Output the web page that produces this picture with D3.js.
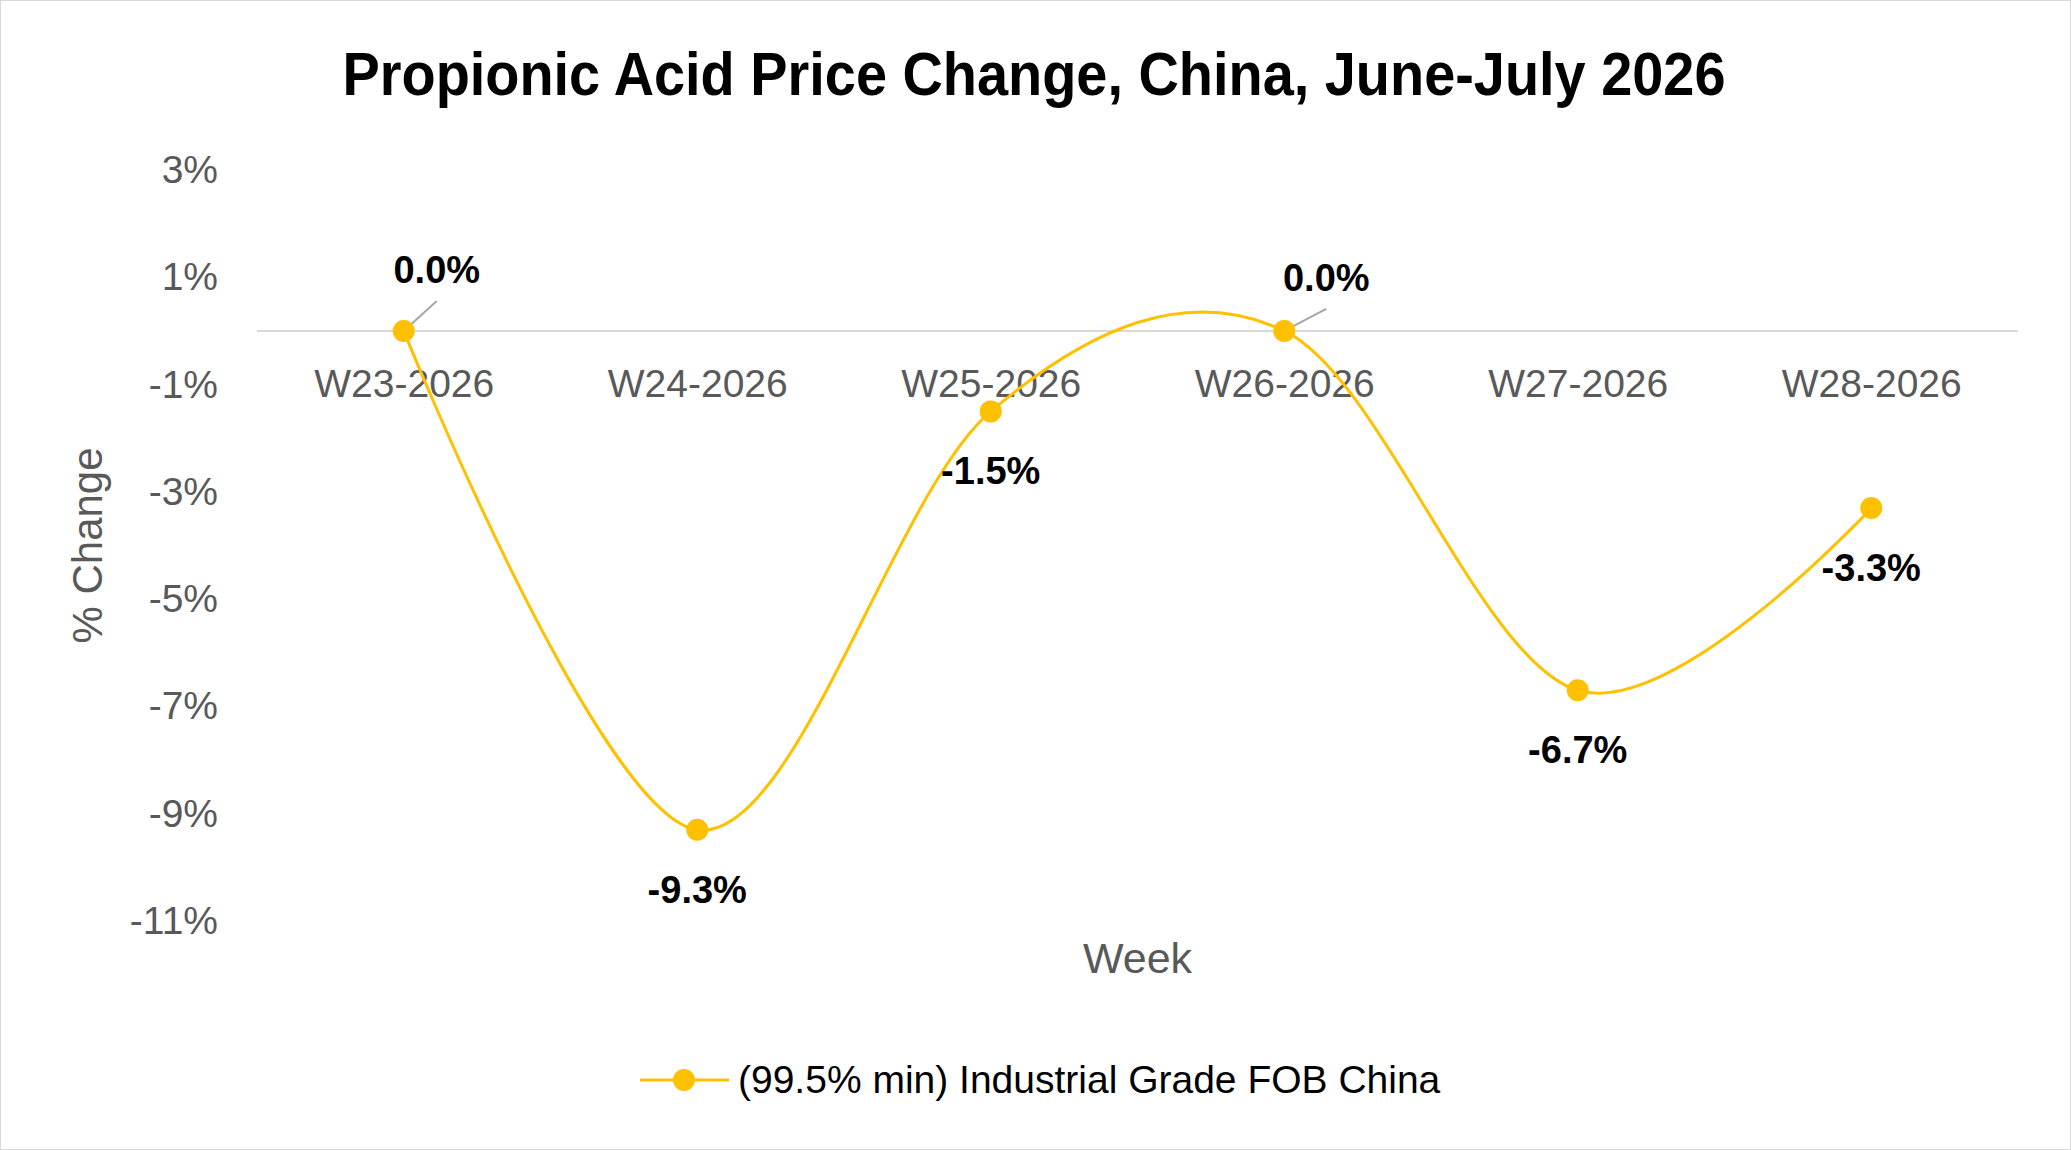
<!DOCTYPE html>
<html>
<head>
<meta charset="utf-8">
<script src="https://cdn.jsdelivr.net/npm/d3@7"></script>
<style>
  body { margin: 0; background: #fff; }
  svg { display: block; }
</style>
</head>
<body>
<div id="chart"></div>
<script>
var width = 2071;
var height = 1150;

var margin = {left:257, right:53, top:170, bottom:229};

var weeks = ["W23-2026","W24-2026","W25-2026","W26-2026","W27-2026","W28-2026"];
var pctChange = [0.0, -9.3, -1.5, 0.0, -6.7, -3.3];
var yTicks = [3, 1, -1, -3, -5, -7, -9, -11];
var seriesName = "(99.5% min) Industrial Grade FOB China";

var sans = "'Liberation Sans', Arial, sans-serif";

var plotW = width - margin.left - margin.right;
var plotH = 921 - margin.top;

var x = d3.scalePoint()
          .domain(weeks)
          .range([0, plotW])
          .padding(0.5);

var y = d3.scaleLinear()
          .domain([-11, 3])
          .range([plotH, 0]);

var svg = d3.select("#chart")
            .append("svg")
            .attr("width", width)
            .attr("height", height);

// outer border
svg.append("rect")
   .attr("x", 0.5).attr("y", 0.5)
   .attr("width", width - 1).attr("height", height - 1)
   .attr("fill", "#fff")
   .attr("stroke", "#d9d9d9");

svg.append("text")
   .attr("x", 1034)
   .attr("y", 95)
   .attr("text-anchor", "middle")
   .attr("textLength", 1383)
   .attr("lengthAdjust", "spacingAndGlyphs")
   .style("font-family", sans)
   .style("font-weight", "bold")
   .style("font-size", "61px")
   .text("Propionic Acid Price Change, China, June-July 2026");

var g = svg.append("g")
           .attr("transform", "translate(" + margin.left + "," + margin.top + ")");

// y axis labels only
var yAxis = d3.axisLeft(y)
              .tickValues(yTicks)
              .tickFormat(function(d){ return d + "%"; })
              .tickSize(0)
              .tickPadding(39);

g.append("g")
 .attr("class", "axis y")
 .call(yAxis)
 .call(function(s){ s.select(".domain").remove(); })
 .selectAll("text")
 .attr("fill", "#595959")
 .style("font-family", sans)
 .style("font-size", "39px");

// category axis sits on the zero line
var xAxis = d3.axisBottom(x)
              .tickSize(0)
              .tickPadding(38)
              .tickSizeOuter(0);

var xg = g.append("g")
          .attr("class", "axis x")
          .attr("transform", "translate(0," + y(0) + ")")
          .call(xAxis);

xg.select(".domain")
  .attr("d", "M0,0H" + plotW)
  .attr("stroke", "#d9d9d9")
  .attr("stroke-width", 2);

xg.selectAll("text")
  .attr("fill", "#595959")
  .style("font-family", sans)
  .style("font-size", "39px");

// axis titles
svg.append("text")
   .attr("transform", "translate(102," + (margin.top + y(-4)) + ") rotate(-90)")
   .attr("text-anchor", "middle")
   .attr("fill", "#595959")
   .style("font-family", sans)
   .style("font-size", "42px")
   .text("% Change");

svg.append("text")
   .attr("x", margin.left + plotW / 2)
   .attr("y", 973)
   .attr("text-anchor", "middle")
   .attr("fill", "#595959")
   .style("font-family", sans)
   .style("font-size", "43px")
   .text("Week");

var data = weeks.map(function(w, i){ return {week: w, value: pctChange[i]}; });

var line = d3.line()
             .x(function(d){ return x(d.week); })
             .y(function(d){ return y(d.value); })
             .curve(d3.curveCardinal.tension(0));

g.append("path")
 .attr("d", line(data))
 .attr("fill", "none")
 .attr("stroke", "#ffc000")
 .attr("stroke-width", 3);

// leader lines for the zero labels placed above-right
function leadDx(d){ return d.week === weeks[0] ? 33 : 42; }
function leadDy(d){ return d.week === weeks[0] ? 30 : 22; }

g.selectAll(".leader")
 .data(data.filter(function(d){ return d.value === 0; }))
 .enter().append("line")
 .attr("class", "leader")
 .attr("x1", function(d){ return x(d.week); })
 .attr("y1", function(d){ return y(d.value); })
 .attr("x2", function(d){ return x(d.week) + leadDx(d); })
 .attr("y2", function(d){ return y(d.value) - leadDy(d); })
 .attr("stroke", "#a6a6a6")
 .attr("stroke-width", 2);

g.selectAll(".pt")
 .data(data)
 .enter().append("circle")
 .attr("class", "pt")
 .attr("cx", function(d){ return x(d.week); })
 .attr("cy", function(d){ return y(d.value); })
 .attr("r", 11)
 .attr("fill", "#ffc000");

// data labels: zero labels above-right, others below
g.selectAll(".lbl")
 .data(data)
 .enter().append("text")
 .attr("class", "lbl")
 .attr("text-anchor", "middle")
 .attr("x", function(d){
    return d.value === 0 ? x(d.week) + leadDx(d) : x(d.week);
 })
 .attr("y", function(d){
    return d.value === 0 ? y(d.value) - leadDy(d) - 18 : y(d.value) + 73;
 })
 .style("font-family", sans)
 .style("font-weight", "bold")
 .style("font-size", "38px")
 .text(function(d){ return d.value.toFixed(1) + "%"; });

// legend
var lg = svg.append("g").attr("transform", "translate(640,1080)");
lg.append("line")
  .attr("x1", 0).attr("x2", 89)
  .attr("stroke", "#ffc000").attr("stroke-width", 3);
lg.append("circle")
  .attr("cx", 44).attr("r", 11).attr("fill", "#ffc000");
lg.append("text")
  .attr("x", 98)
  .attr("y", 13)
  .style("font-family", sans)
  .style("font-size", "39px")
  .text(seriesName);
</script>
</body>
</html>
